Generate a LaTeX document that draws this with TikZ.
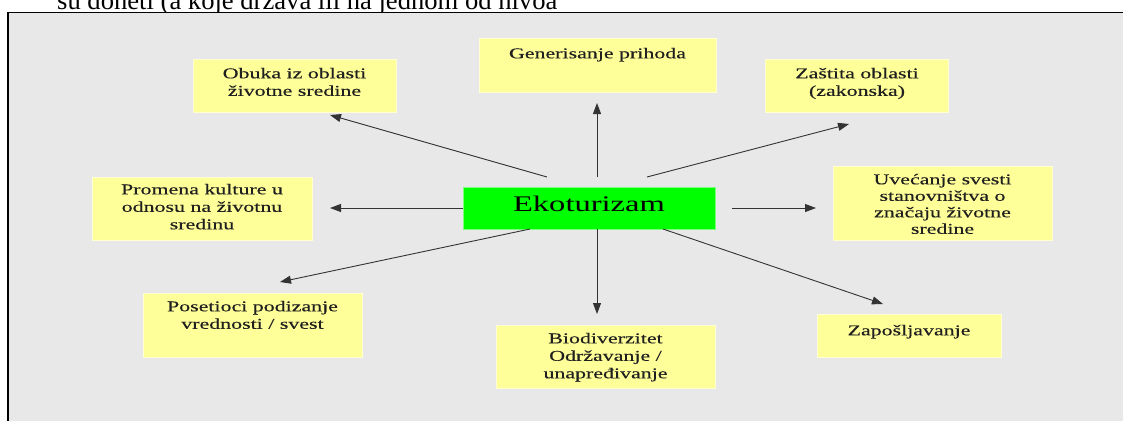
\documentclass[tikz,border=0pt]{standalone}
\usepackage{fontspec}
\setmainfont{Liberation Serif}
\newfontfamily\boxfont[FakeStretch=1.46,FakeBold=0.3]{Liberation Serif}
\newfontfamily\ekofont[FakeStretch=1.46]{Liberation Serif}
\usetikzlibrary{arrows.meta}
\definecolor{panelgray}{HTML}{E8E8E8}
\definecolor{boxyellow}{HTML}{FFFF99}
\definecolor{boxedge}{HTML}{FFFFD2}
\definecolor{ecogreen}{HTML}{00FF00}
\definecolor{ecoedge}{HTML}{7CFF7C}
\definecolor{arrowgray}{HTML}{333333}
\begin{document}
\begin{tikzpicture}[x=1pt,y=-1pt,
  ybox/.style={fill=boxyellow, draw=boxedge, line width=0.8pt, inner sep=0pt},
  btext/.style={font=\boxfont\fontsize{15}{17.5}\selectfont, align=center, inner sep=0pt, anchor=north, text=black!88},
  conn/.style={draw=arrowgray, line width=0.9pt, -{Triangle[length=11pt,width=8pt]}}
]
\useasboundingbox (0,0) rectangle (1123,421);
\clip (0,0) rectangle (1123,421);
\fill[white] (0,0) rectangle (1123,421);
% clipped heading text of the page
\node[anchor=base west, inner sep=0pt, font=\fontsize{26.6}{30}\selectfont] (toptext) at (57,9) {su doneti (a koje država ili na jednom od nivoa};
% panel
\fill[panelgray] (8,12.7) rectangle (1123,421);
\draw[black, line width=1.2pt] (1123,12.7) -- (8,12.7) -- (8,421);

% boxes
\node[ybox, minimum width=203pt, minimum height=53pt] (obuka) at (294.5,85.5) {};
\node[btext] (tobuka) at (294.5,67.7) {Obuka iz oblasti\\životne sredine};

\node[ybox, minimum width=237pt, minimum height=54pt] (gen) at (597.5,65) {};
\node[btext] (tgen) at (597.5,47.7) {Generisanje prihoda};

\node[ybox, minimum width=183pt, minimum height=53pt] (zast) at (856.5,85.5) {};
\node[btext] (tzast) at (857,67.7) {Zaštita oblasti\\(zakonska)};

\node[ybox, minimum width=220pt, minimum height=63pt] (prom) at (202,208.5) {};
\node[btext] (tprom) at (202,183.7) {Promena kulture u\\odnosu na životnu\\sredinu};

\node[ybox, minimum width=219pt, minimum height=74pt] (uvec) at (942.5,203) {};
\node[btext, font=\boxfont\fontsize{15}{16.5}\selectfont] (tuvec) at (942.5,173.7) {Uvećanje svesti\\stanovništva o\\značaju životne\\sredine};

\node[ybox, minimum width=219pt, minimum height=64pt] (pos) at (252.5,325) {};
\node[btext] (tpos) at (252.5,300.7) {Posetioci podizanje\\vrednosti / svest};

\node[ybox, minimum width=219pt, minimum height=63pt] (bio) at (605.5,356.5) {};
\node[btext] (tbio) at (605.5,332.7) {Biodiverzitet\\Održavanje /\\unapređivanje};

\node[ybox, minimum width=184pt, minimum height=43pt] (zap) at (909,335.5) {};
\node[btext] (tzap) at (909,324.7) {Zapošljavanje};

% centre
\node[fill=ecogreen, draw=ecoedge, line width=0.6pt, inner sep=0pt, minimum width=252pt, minimum height=42pt] (eko) at (589,208) {};
\node[anchor=base, inner sep=0pt, font=\ekofont\fontsize{22.3}{26}\selectfont] (teko) at (589,211) {Ekoturizam};

% connector end points
\coordinate (s1) at (547,177);  \coordinate (e1) at (330,115);
\coordinate (s2) at (597,177);  \coordinate (e2) at (597,103);
\coordinate (s3) at (647,177);  \coordinate (e3) at (849,124);
\coordinate (s4) at (463,208);  \coordinate (e4) at (330,208);
\coordinate (s5) at (732,208);  \coordinate (e5) at (816,208);
\coordinate (s6) at (530,229);  \coordinate (e6) at (280,282);
\coordinate (s7) at (597,229);  \coordinate (e7) at (597,314);
\coordinate (s8) at (663,229);  \coordinate (e8) at (883,304);

\draw[conn] (s1) -- (e1);
\draw[conn] (s2) -- (e2);
\draw[conn] (s3) -- (e3);
\draw[conn] (s4) -- (e4);
\draw[conn] (s5) -- (e5);
\draw[conn] (s6) -- (e6);
\draw[conn] (s7) -- (e7);
\draw[conn] (s8) -- (e8);
\end{tikzpicture}
\end{document}
